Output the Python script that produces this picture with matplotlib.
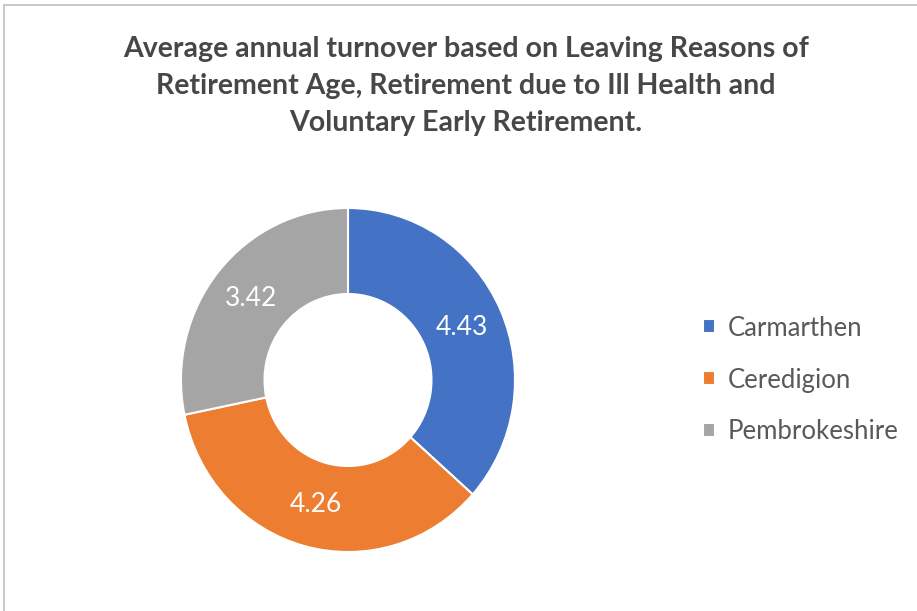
import matplotlib
matplotlib.use("Agg")
import matplotlib.pyplot as plt
from matplotlib.patches import Rectangle
import numpy as np

categories = ["Carmarthen", "Ceredigion", "Pembrokeshire"]
values = [4.43, 4.26, 3.42]
colors = ["#4472C4", "#ED7D31", "#A5A5A5"]
title = ("Average annual turnover based on Leaving Reasons of\n"
         "Retirement Age, Retirement due to Ill Health and\n"
         "Voluntary Early Retirement.")

W, H = 917, 611
fig = plt.figure(figsize=(W / 100, H / 100), dpi=100)
fig.patch.set_facecolor("white")

# chart border
fig.add_artist(Rectangle((4 / W, -0.01), 1.0, 1 - 5 / H + 0.01, transform=fig.transFigure,
                         fill=False, edgecolor="#BFBFBF", linewidth=1.2))

fig.text(466 / W, 1 - 86 / H, title, ha="center", va="center", fontsize=20.5,
         fontweight="bold", color="#474747", family=["Lato", "DejaVu Sans"],
         linespacing=1.54)

cx, cy, rx, ry = 348, 380, 167, 172
ax = fig.add_axes([(cx - rx) / W, (H - cy - ry) / H, 2 * rx / W, 2 * ry / H])
wedges, _ = ax.pie(values, colors=colors, startangle=90, counterclock=False,
                   radius=1.0, wedgeprops=dict(width=0.5, edgecolor="white", linewidth=1.5))
total = sum(values)
ang = 90.0
for v in values:
    span = v / total * 360
    mid = np.deg2rad(ang - span / 2)
    ax.text(0.75 * np.cos(mid), 0.75 * np.sin(mid), f"{v:.2f}", ha="center", va="center",
            color="white", fontsize=19, family=["Lato", "DejaVu Sans"])
    ang -= span
ax.set_xlim(-1, 1)
ax.set_ylim(-1, 1)
ax.set_aspect("auto")
ax.axis("off")

leg = fig.legend(wedges, categories, loc="center left", bbox_to_anchor=(680 / W, 1 - 380 / H),
                 frameon=False, handlelength=0.45, handleheight=0.45,
                 handletextpad=0.5, labelspacing=1.05,
                 prop={"family": ["Lato", "DejaVu Sans"], "size": 18.5})
for t in leg.get_texts():
    t.set_color("#595959")

fig.savefig("out.png", dpi=100)
